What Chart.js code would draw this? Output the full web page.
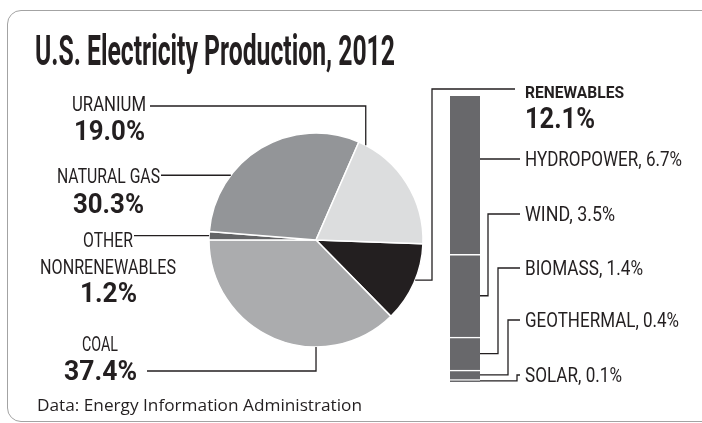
<!DOCTYPE html>
<html>
<head>
<meta charset="utf-8">
<script src="https://cdn.jsdelivr.net/npm/chart.js@4.4.1/dist/chart.umd.min.js"></script>
<style>
  body { margin: 0; background: #fff; }
  #wrap { position: relative; width: 702px; height: 423px; overflow: hidden; font-family: Roboto, sans-serif; color: #231f20; }
  #card { position: absolute; left: 7px; top: 10px; width: 720px; height: 412px; border: 1.5px solid #a3a3a3; border-radius: 14px; box-sizing: border-box; }
  canvas { position: absolute; left: 0; top: 0; }
  .t { position: absolute; white-space: pre; line-height: 1; }
</style>
</head>
<body>
<div id="wrap">
  <div id="card"></div>
  <canvas id="pie" width="702" height="423"></canvas>
  <canvas id="bar" width="702" height="423"></canvas>
</div>
<script>
// data
const sources = ['RENEWABLES', 'COAL', 'OTHER NONRENEWABLES', 'NATURAL GAS', 'URANIUM'];
const shares = [12.1, 37.4, 1.2, 30.3, 19.0];
const renewSources = ['SOLAR', 'GEOTHERMAL', 'BIOMASS', 'WIND', 'HYDROPOWER']; // bottom to top
const renewShares = [0.1, 0.4, 1.4, 3.5, 6.7];

const pieColors = ['#231f20', '#abacae', '#636466', '#939598', '#dcddde'];
const lineColor = '#231f20';
const wrap = document.getElementById('wrap');

function pct(v) { return v.toFixed(1) + '%'; }

// text is placed as html and squeezed to the width of the condensed original
function addText(str, x, y, size, weight, width, align, family) {
  const el = document.createElement('div');
  el.className = 't';
  el.textContent = str;
  el.style.fontSize = size + 'px';
  el.style.fontWeight = weight;
  if (family) el.style.fontFamily = family;
  wrap.appendChild(el);
  const natural = el.getBoundingClientRect().width;
  const s = width / natural;
  el.style.left = (align === 'center' ? x - width / 2 : x) + 'px';
  el.style.top = (y - size * 0.49) + 'px';
  el.style.transformOrigin = '0 0';
  el.style.transform = 'scaleX(' + s + ')';
}

addText('U.S. Electricity Production, 2012', 35, 51, 42, 700, 360, 'left');
addText('Data: Energy Information Administration', 37, 405, 16, 400, 325, 'left', '"Open Sans", sans-serif');

// left labels: index into sources, name line centers, value center
const leftLabels = [
  { i: 4, x: 109, ys: [104], ws: [74], vy: 131, vw: 71 },
  { i: 3, x: 108, ys: [176], ws: [103], vy: 204, vw: 71 },
  { i: 2, x: 108, ys: [240, 267], ws: [50, 136], vy: 293, vw: 57, split: true },
  { i: 1, x: 100, ys: [344], ws: [36], vy: 371, vw: 73 }
];
leftLabels.forEach(l => {
  const lines = l.split ? sources[l.i].split(' ') : [sources[l.i]];
  lines.forEach((s, k) => addText(s, l.x, l.ys[k], 21, 400, l.ws[k], 'center'));
  addText(pct(shares[l.i]), l.x, l.vy, 27, 700, l.vw, 'center');
});

addText(sources[0], 525, 92, 17, 700, 99, 'left');
addText(pct(shares[0]), 525, 118, 30, 700, 70, 'left');

const rightY = [375, 320, 268, 214, 159];
const rightW = [97, 154, 118, 90, 157];
const elbowX = [517, 508, 498, 488, 0];
renewSources.forEach((s, i) => {
  addText(s + ', ' + pct(renewShares[i]), 525, rightY[i], 21, 400, rightW[i], 'left');
});

// leader lines from the left labels into the pie
const pieLeaders = {
  id: 'pieLeaders',
  afterDatasetsDraw(chart) {
    const ctx = chart.ctx;
    const arcs = chart.getDatasetMeta(0).data;
    const at = (i, f) => {
      const a = arcs[i];
      const ang = a.startAngle + f * (a.endAngle - a.startAngle);
      return { x: a.x + a.outerRadius * Math.cos(ang), y: a.y + a.outerRadius * Math.sin(ang) };
    };
    ctx.save();
    ctx.strokeStyle = lineColor;
    ctx.lineWidth = 1.3;
    const u = at(4, 0.06), g = at(3, 0.30), o = at(2, 0.5), c = at(1, 0.33), r = at(0, 0.46);
    const paths = [
      [[150, 106], [u.x, 106], [u.x, u.y]],
      [[161, g.y], [g.x, g.y]],
      [[134, o.y], [o.x, o.y]],
      [[147, 371], [c.x, 371], [c.x, c.y]],
      [[r.x, r.y], [432, r.y], [432, 89], [515, 89]]
    ];
    paths.forEach(p => {
      ctx.beginPath();
      p.forEach((pt, k) => k ? ctx.lineTo(pt[0], pt[1]) : ctx.moveTo(pt[0], pt[1]));
      ctx.stroke();
    });
    ctx.restore();
  }
};

new Chart(document.getElementById('pie'), {
  type: 'pie',
  data: {
    labels: sources,
    datasets: [{ data: shares, backgroundColor: pieColors, borderColor: '#fff', borderWidth: 1.5 }]
  },
  options: {
    responsive: false,
    animation: false,
    events: [],
    rotation: 92,
    radius: 107,
    layout: { padding: { left: 166, right: 236, top: 90, bottom: 33 } },
    plugins: { legend: { display: false }, tooltip: { enabled: false } }
  },
  plugins: [pieLeaders]
});

// leader lines from the renewables bar to its labels
const barLeaders = {
  id: 'barLeaders',
  afterDatasetsDraw(chart) {
    const ctx = chart.ctx;
    ctx.save();
    ctx.strokeStyle = lineColor;
    ctx.lineWidth = 1.3;
    renewSources.forEach((s, i) => {
      const bar = chart.getDatasetMeta(i).data[0];
      const top = Math.min(bar.y, bar.base), bottom = Math.max(bar.y, bar.base);
      const right = bar.x + bar.width / 2;
      const ly = rightY[i];
      ctx.beginPath();
      if (ly > top && ly < bottom) {
        ctx.moveTo(right, ly);
      } else {
        const my = (top + bottom) / 2;
        ctx.moveTo(right, my);
        ctx.lineTo(elbowX[i], my);
        ctx.lineTo(elbowX[i], ly);
      }
      ctx.lineTo(520, ly);
      ctx.stroke();
    });
    ctx.restore();
  }
};

new Chart(document.getElementById('bar'), {
  type: 'bar',
  data: {
    labels: [sources[0]],
    datasets: renewSources.map((s, i) => ({
      label: s,
      data: [renewShares[i]],
      backgroundColor: '#68686b',
      borderColor: '#fff',
      borderWidth: i === renewSources.length - 1 ? 0 : { top: 1.5, right: 0, bottom: 0, left: 0 },
      barPercentage: 1,
      categoryPercentage: 1
    }))
  },
  options: {
    responsive: false,
    animation: false,
    events: [],
    layout: { padding: { left: 450, right: 222, top: 96, bottom: 41 } },
    scales: {
      x: { display: false, stacked: true },
      y: { display: false, stacked: true, min: 0, max: shares[0] }
    },
    plugins: { legend: { display: false }, tooltip: { enabled: false } }
  },
  plugins: [barLeaders]
});
</script>
</body>
</html>
